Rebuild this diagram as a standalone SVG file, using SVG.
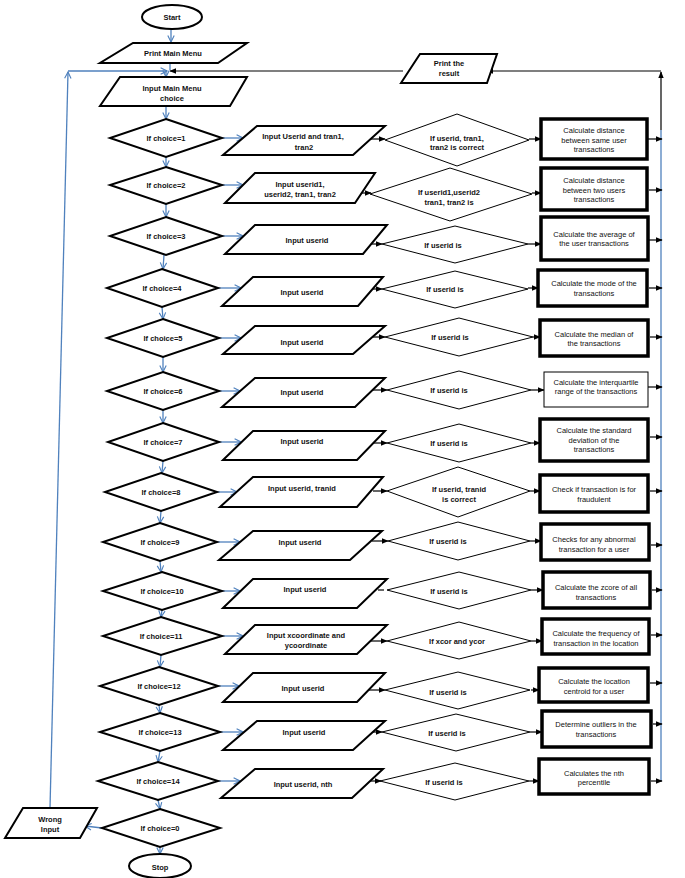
<svg xmlns="http://www.w3.org/2000/svg" width="685" height="878" viewBox="0 0 685 878">
<style>
text{font-family:"Liberation Sans Narrow","Liberation Sans",Arial,sans-serif;font-size:7.5px;fill:#111;text-anchor:middle;dominant-baseline:central}
.b{font-weight:bold}
.sh{fill:#fff;stroke:#000;stroke-width:2}
.md{fill:#fff;stroke:#000;stroke-width:1}
.bx{fill:#fff;stroke:#000;stroke-width:3.5}
.thin{fill:#fff;stroke:#000;stroke-width:1}
.bl{stroke:#4f81bd;stroke-width:1.3;fill:none}
.bk{stroke:#000;stroke-width:1.2;fill:none}
.ba{stroke:#4f81bd;stroke-width:1.3;fill:none;marker-end:url(#ob)}
.ka{stroke:#000;stroke-width:1.2;fill:none;marker-end:url(#fk)}
</style>
<defs>
<marker id="ob" viewBox="0 0 10 10" refX="9" refY="5" markerWidth="8" markerHeight="9" markerUnits="userSpaceOnUse" orient="auto">
<path d="M1,1 L9,5 L1,9" fill="none" stroke="#4f81bd" stroke-width="1.4"/>
</marker>
<marker id="fk" viewBox="0 0 10 10" refX="9" refY="5" markerWidth="7" markerHeight="7" markerUnits="userSpaceOnUse" orient="auto">
<path d="M0,1 L10,5 L0,9 z" fill="#000"/>
</marker>
</defs>
<rect width="685" height="878" fill="#fff"/>

<g id="connectors">
<!-- top flow -->
<line class="ba" x1="171" y1="29" x2="171" y2="42"/>
<line class="bl" x1="170" y1="63" x2="170" y2="70"/>
<line class="ba" x1="166" y1="70" x2="166" y2="77"/>
<line class="ba" x1="166" y1="106" x2="166" y2="119"/>
<!-- loop back left -->
<line class="ba" x1="50" y1="808" x2="68" y2="72"/>
<line class="ba" x1="68" y1="71" x2="167" y2="71"/>
<!-- print the result -->
<line class="ka" x1="403" y1="71" x2="170" y2="71"/>
<line class="ka" x1="661" y1="71" x2="487" y2="71"/>
<line class="ka" x1="661" y1="130" x2="661" y2="72"/>
<line class="bl" x1="661" y1="130" x2="661" y2="781"/>
<!-- down chain left diamonds -->
<line class="ba" x1="166" y1="157" x2="166" y2="167"/>
<line class="ba" x1="166" y1="204" x2="166" y2="217"/>
<line class="ba" x1="164" y1="255" x2="163" y2="269"/>
<line class="ba" x1="162" y1="307" x2="163" y2="319"/>
<line class="ba" x1="163" y1="357" x2="163" y2="372"/>
<line class="ba" x1="163" y1="410" x2="163" y2="423"/>
<line class="ba" x1="163" y1="461" x2="162" y2="473"/>
<line class="ba" x1="161" y1="511" x2="160" y2="523"/>
<line class="ba" x1="160" y1="561" x2="161" y2="572"/>
<line class="ba" x1="162" y1="610" x2="161" y2="617"/>
<line class="ba" x1="161" y1="655" x2="160" y2="667"/>
<line class="ba" x1="159" y1="705" x2="160" y2="713"/>
<line class="ba" x1="160" y1="751" x2="158" y2="762"/>
<line class="ba" x1="158" y1="800" x2="160" y2="809"/>
<line class="ba" x1="160" y1="847" x2="160" y2="854"/>
<line class="ba" x1="102" y1="828" x2="85" y2="826"/>
<!-- left diamond to input -->
<line class="ba" x1="222" y1="138" x2="243" y2="138"/>
<line class="ba" x1="222" y1="185" x2="243" y2="185"/>
<line class="ba" x1="222" y1="236" x2="243" y2="236"/>
<line class="ba" x1="218" y1="288" x2="241" y2="288"/>
<line class="ba" x1="219" y1="338" x2="241" y2="338"/>
<line class="ba" x1="219" y1="391" x2="240" y2="391"/>
<line class="ba" x1="219" y1="442" x2="241" y2="442"/>
<line class="ba" x1="217" y1="492" x2="237" y2="492"/>
<line class="ba" x1="217" y1="542" x2="240" y2="542"/>
<line class="ba" x1="222" y1="591" x2="240" y2="591"/>
<line class="ba" x1="222" y1="636" x2="243" y2="636"/>
<line class="ba" x1="218" y1="686" x2="239" y2="686"/>
<line class="ba" x1="220" y1="732" x2="243" y2="732"/>
<line class="ba" x1="218" y1="781" x2="240" y2="781"/>
<!-- input to check diamond -->
<line class="ka" x1="371" y1="139" x2="385" y2="139"/>
<line class="ka" x1="362" y1="193" x2="371" y2="193"/>
<line class="ka" x1="371" y1="244" x2="382" y2="244"/>
<line class="ka" x1="373" y1="289" x2="382" y2="289"/>
<line class="ka" x1="373" y1="337" x2="385" y2="337"/>
<line class="ka" x1="373" y1="390" x2="387" y2="390"/>
<line class="ka" x1="373" y1="443" x2="387" y2="443"/>
<line class="ka" x1="373" y1="491" x2="387" y2="491"/>
<line class="ka" x1="372" y1="541" x2="388" y2="541"/>
<line class="bk" x1="378" y1="590" x2="384" y2="590"/>
<line class="ka" x1="371" y1="641" x2="387" y2="641"/>
<line class="ka" x1="369" y1="690" x2="385" y2="690"/>
<line class="ka" x1="373" y1="732" x2="382" y2="732"/>
<line class="ka" x1="370" y1="781" x2="381" y2="781"/>
<!-- check diamond to calc box -->
<line class="ka" x1="529" y1="139" x2="541" y2="139"/>
<line class="ka" x1="532" y1="193" x2="541" y2="193"/>
<line class="ka" x1="528" y1="244" x2="541" y2="244"/>
<line class="ka" x1="528" y1="288" x2="538" y2="288"/>
<line class="ka" x1="533" y1="337" x2="540" y2="337"/>
<line class="ka" x1="531" y1="390" x2="544" y2="390"/>
<line class="ka" x1="531" y1="443" x2="540" y2="443"/>
<line class="ka" x1="530" y1="491" x2="540" y2="491"/>
<line class="ka" x1="530" y1="541" x2="541" y2="541"/>
<line class="ka" x1="531" y1="590" x2="543" y2="590"/>
<line class="ka" x1="531" y1="641" x2="542" y2="641"/>
<line class="ka" x1="531" y1="690" x2="539" y2="690"/>
<line class="ka" x1="530" y1="732" x2="542" y2="732"/>
<line class="ka" x1="529" y1="781" x2="539" y2="781"/>
<!-- calc box to right line -->
<line class="ka" x1="647" y1="139" x2="662" y2="139"/>
<line class="ka" x1="649" y1="190" x2="662" y2="190"/>
<line class="ka" x1="649" y1="240" x2="662" y2="240"/>
<line class="ka" x1="649" y1="288" x2="662" y2="288"/>
<line class="ka" x1="650" y1="337" x2="662" y2="337"/>
<line class="ka" x1="648" y1="387" x2="662" y2="387"/>
<line class="ka" x1="650" y1="437" x2="662" y2="437"/>
<line class="ka" x1="650" y1="491" x2="662" y2="491"/>
<line class="ka" x1="651" y1="545" x2="662" y2="545"/>
<line class="ka" x1="652" y1="590" x2="662" y2="590"/>
<line class="ka" x1="651" y1="635" x2="662" y2="635"/>
<line class="ka" x1="650" y1="683" x2="662" y2="683"/>
<line class="ka" x1="653" y1="724" x2="662" y2="724"/>
<line class="ka" x1="651" y1="781" x2="662" y2="781"/>
</g>

<g id="start"><ellipse class="sh" cx="172" cy="17" rx="30" ry="12"/><text class="b" x="172" y="17">Start</text></g>
<g id="print-menu"><polygon class="sh" points="133,43 247,43 218,63 100,63"/><text class="b" x="173" y="53">Print Main Menu</text></g>
<g id="input-menu"><polygon class="sh" points="120,77 247,77 230,106 100,106"/><text class="b" x="172" y="88">Input Main Menu</text><text class="b" x="172" y="98">choice</text></g>
<g id="print-result"><polygon class="sh" points="420,54 497,54 487,83 401,83"/><text class="b" x="449" y="63">Print the</text><text class="b" x="449" y="73">result</text></g>

<!-- choice diamonds -->
<g id="c1"><polygon class="sh" points="166,119 222,138 166,157 110,138"/><text class="b" x="166" y="138">If choice=1</text></g>
<g id="c2"><polygon class="sh" points="166,167 222,185 166,204 110,185"/><text class="b" x="166" y="185">If choice=2</text></g>
<g id="c3"><polygon class="sh" points="166,217 222,236 166,255 110,236"/><text class="b" x="166" y="236">If choice=3</text></g>
<g id="c4"><polygon class="sh" points="162,269 218,288 162,307 107,288"/><text class="b" x="162" y="288">If choice=4</text></g>
<g id="c5"><polygon class="sh" points="163,319 219,338 163,357 107,338"/><text class="b" x="163" y="338">If choice=5</text></g>
<g id="c6"><polygon class="sh" points="163,372 219,391 163,410 107,391"/><text class="b" x="163" y="391">If choice=6</text></g>
<g id="c7"><polygon class="sh" points="163,423 219,442 163,461 108,442"/><text class="b" x="163" y="442">If choice=7</text></g>
<g id="c8"><polygon class="sh" points="161,473 217,492 161,511 105,492"/><text class="b" x="161" y="492">If choice=8</text></g>
<g id="c9"><polygon class="sh" points="160,523 217,542 160,561 103,542"/><text class="b" x="160" y="542">If choice=9</text></g>
<g id="c10"><polygon class="sh" points="162,572 222,591 162,610 103,591"/><text class="b" x="162" y="591">If choice=10</text></g>
<g id="c11"><polygon class="sh" points="161,617 222,636 161,655 103,636"/><text class="b" x="161" y="636">If choice=11</text></g>
<g id="c12"><polygon class="sh" points="159,667 218,686 159,705 100,686"/><text class="b" x="159" y="686">If choice=12</text></g>
<g id="c13"><polygon class="sh" points="160,713 220,732 160,751 100,732"/><text class="b" x="160" y="732">If choice=13</text></g>
<g id="c14"><polygon class="sh" points="158,762 218,781 158,800 98,781"/><text class="b" x="158" y="781">If choice=14</text></g>
<g id="c0"><polygon class="sh" points="160,809 220,828 160,847 102,828"/><text class="b" x="160" y="828">If choice=0</text></g>

<g id="wrong"><polygon class="sh" points="23,808 97,808 80,838 5,838"/><text class="b" x="50" y="819">Wrong</text><text class="b" x="50" y="829">Input</text></g>
<g id="stop"><ellipse class="sh" cx="160" cy="866" rx="31" ry="12"/><text class="b" x="160" y="867">Stop</text></g>

<!-- input parallelograms -->
<g id="i1"><polygon class="sh" points="257,126 385,126 353,155 223,155"/><text class="b" x="303" y="136">Input Userid and tran1,</text><text class="b" x="304" y="147">tran2</text></g>
<g id="i2"><polygon class="sh" points="255,173 375,173 355,203 225,203"/><text class="b" x="300" y="184">Input userid1,</text><text class="b" x="300" y="194">userid2, tran1, tran2</text></g>
<g id="i3"><polygon class="sh" points="255,225 387,225 363,254 225,254"/><text class="b" x="307" y="240">Input userid</text></g>
<g id="i4"><polygon class="sh" points="253,277 383,277 358,306 222,306"/><text class="b" x="302" y="292">Input userid</text></g>
<g id="i5"><polygon class="sh" points="255,326 385,326 353,354 223,354"/><text class="b" x="302" y="342">Input userid</text></g>
<g id="i6"><polygon class="sh" points="255,378 385,378 355,407 222,407"/><text class="b" x="302" y="392">Input userid</text></g>
<g id="i7"><polygon class="sh" points="253,431 385,431 357,460 223,460"/><text class="b" x="302" y="441">Input userid</text></g>
<g id="i8"><polygon class="sh" points="253,477 383,477 357,507 220,507"/><text class="b" x="302" y="488">Input userid, tranid</text></g>
<g id="i9"><polygon class="sh" points="253,531 382,531 350,560 219,560"/><text class="b" x="300" y="542">Input userid</text></g>
<g id="i10"><polygon class="sh" points="253,579 387,579 357,608 223,608"/><text class="b" x="305" y="589">Input userid</text></g>
<g id="i11"><polygon class="sh" points="255,625 387,625 357,654 225,654"/><text class="b" x="306" y="635">Input xcoordinate and</text><text class="b" x="306" y="645">ycoordinate</text></g>
<g id="i12"><polygon class="sh" points="253,673 385,673 357,702 223,702"/><text class="b" x="303" y="688">Input userid</text></g>
<g id="i13"><polygon class="sh" points="257,721 385,721 353,750 223,750"/><text class="b" x="304" y="732">Input userid</text></g>
<g id="i14"><polygon class="sh" points="255,769 383,769 352,798 221,798"/><text class="b" x="303" y="784">Input userid, nth</text></g>

<!-- check diamonds -->
<g id="d1"><polygon class="md" points="457,114 529,140 457,166 385,140"/><text class="b" x="457" y="138">If userid, tran1,</text><text class="b" x="457" y="147">tran2 is correct</text></g>
<g id="d2"><polygon class="md" points="450,168 532,194 450,221 370,194"/><text class="b" x="449" y="192">If userid1,userid2</text><text class="b" x="449" y="202">tran1, tran2 is</text></g>
<g id="d3"><polygon class="md" points="455,226 528,244 455,263 382,244"/><text class="b" x="443" y="245">If userid is</text></g>
<g id="d4"><polygon class="md" points="455,271 528,289 455,308 382,289"/><text class="b" x="445" y="289">If userid is</text></g>
<g id="d5"><polygon class="md" points="459,318 533,337 459,356 385,337"/><text class="b" x="450" y="337">If userid is</text></g>
<g id="d6"><polygon class="md" points="459,371 531,390 459,409 387,390"/><text class="b" x="449" y="390">If userid is</text></g>
<g id="d7"><polygon class="md" points="459,424 531,443 459,462 387,443"/><text class="b" x="449" y="443">If userid is</text></g>
<g id="d8"><polygon class="md" points="458,467 530,491 458,517 387,491"/><text class="b" x="459" y="489">If userid, tranid</text><text class="b" x="459" y="499">is correct</text></g>
<g id="d9"><polygon class="md" points="458,522 530,541 458,560 388,541"/><text class="b" x="448" y="541">If userid is</text></g>
<g id="d10"><polygon class="md" points="459,572 531,590 459,609 387,590"/><text class="b" x="449" y="591">If userid is</text></g>
<g id="d11"><polygon class="md" points="459,622 531,641 459,659 387,641"/><text class="b" x="457" y="641">If xcor and ycor</text></g>
<g id="d12"><polygon class="md" points="458,672 530,690 458,709 385,690"/><text class="b" x="448" y="692">If userid is</text></g>
<g id="d13"><polygon class="md" points="456,714 530,732 456,751 382,732"/><text class="b" x="447" y="733">If userid is</text></g>
<g id="d14"><polygon class="md" points="455,763 529,781 455,800 380,781"/><text class="b" x="444" y="782">If userid is</text></g>

<!-- calc boxes -->
<g id="r1"><rect class="bx" x="541" y="119" width="106" height="40"/><text x="594" y="130">Calculate distance</text><text x="594" y="140">between same user</text><text x="594" y="149">transactions</text></g>
<g id="r2"><rect class="bx" x="541" y="168" width="106" height="42"/><text x="594" y="180">Calculate distance</text><text x="594" y="190">between two users</text><text x="594" y="199">transactions</text></g>
<g id="r3"><rect class="bx" x="541" y="217" width="107" height="43"/><text x="594" y="234">Calculate the average of</text><text x="594" y="243">the user transactions</text></g>
<g id="r4"><rect class="bx" x="538" y="270" width="109" height="36"/><text x="594" y="283">Calculate the mode of the</text><text x="594" y="293">transactions</text></g>
<g id="r5"><rect class="bx" x="540" y="320" width="108" height="36"/><text x="594" y="334">Calculate the median of</text><text x="594" y="343">the transactions</text></g>
<g id="r6"><rect class="thin" x="544" y="372" width="104" height="35"/><text x="596" y="382">Calculate the interquartile</text><text x="596" y="391">range of the transactions</text></g>
<g id="r7"><rect class="bx" x="540" y="419" width="108" height="42"/><text x="594" y="430">Calculate the standard</text><text x="594" y="440">deviation of the</text><text x="594" y="449">transactions</text></g>
<g id="r8"><rect class="bx" x="540" y="475" width="108" height="37"/><text x="594" y="489">Check if transaction is for</text><text x="594" y="499">fraudulent</text></g>
<g id="r9"><rect class="bx" x="541" y="524" width="108" height="36"/><text x="594" y="539">Checks for any abnormal</text><text x="594" y="549">transaction for a user</text></g>
<g id="r10"><rect class="bx" x="543" y="572" width="107" height="36"/><text x="596" y="587">Calculate the zcore of all</text><text x="596" y="597">transactions</text></g>
<g id="r11"><rect class="bx" x="542" y="619" width="107" height="35"/><text x="596" y="633">Calculate the frequency of</text><text x="596" y="643">transaction in the location</text></g>
<g id="r12"><rect class="bx" x="539" y="668" width="109" height="34"/><text x="594" y="681">Calculate the location</text><text x="594" y="691">centroid for a user</text></g>
<g id="r13"><rect class="bx" x="542" y="711" width="109" height="36"/><text x="596" y="724">Determine outliers in the</text><text x="596" y="734">transactions</text></g>
<g id="r14"><rect class="bx" x="539" y="759" width="110" height="35"/><text x="594" y="773">Calculates the nth</text><text x="594" y="782">percentile</text></g>
</svg>
